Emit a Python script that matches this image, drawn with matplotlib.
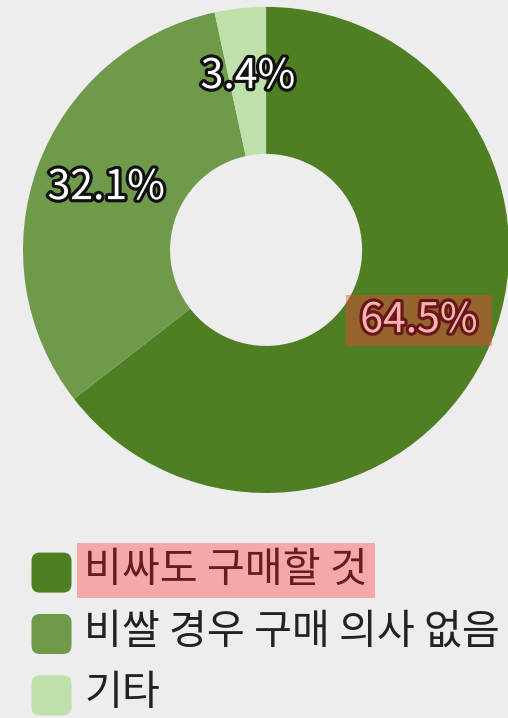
import matplotlib
matplotlib.use("Agg")
from matplotlib import pyplot as plt
from matplotlib.patches import FancyBboxPatch
from matplotlib.legend_handler import HandlerPatch
from matplotlib.transforms import ScaledTranslation
import matplotlib.patheffects as pe

plt.rcParams['font.family'] = ['Noto Sans CJK KR', 'DejaVu Sans']

labels = ['비싸도 구매할 것', '비쌀 경우 구매 의사 없음', '기타']
values = [64.5, 32.1, 3.4]
colors = ['#4f7f23', '#6e9a4a', '#c0e0ab']
highlight = 0  # index of the emphasised category

BG = '#ededed'
SQ = 28.8  # legend square side, points


class HandlerRound(HandlerPatch):
    def create_artists(self, legend, orig_handle, xdescent, ydescent,
                       width, height, fontsize, trans):
        y0 = -ydescent + height / 2 - SQ / 2 - 3.5
        p = FancyBboxPatch((-xdescent, y0), SQ, SQ,
                           boxstyle="round,pad=0,rounding_size=6",
                           facecolor=orig_handle.get_facecolor(), edgecolor='none',
                           transform=trans)
        return [p]


fig = plt.figure(figsize=(5.08, 7.18), dpi=100)
fig.patch.set_facecolor(BG)

ax = fig.add_axes([0.0453, 0.3134, 0.957, 0.677])
ax.set_facecolor(BG)

wedges, texts, autotexts = ax.pie(
    values, colors=colors, startangle=90, counterclock=False,
    radius=1.0, wedgeprops=dict(width=0.605, edgecolor='none'),
    autopct='%.1f%%', pctdistance=0.70,
    textprops=dict(fontsize=29.5, color='white', weight='medium'))
ax.set_xlim(-1, 1)
ax.set_ylim(-1, 1)
ax.set_aspect('auto')
ax.axis('off')

shift = ax.transData + ScaledTranslation(0, 3 / 72, fig.dpi_scale_trans)
for i, t in enumerate(autotexts):
    t.set_transform(shift)
    if i == highlight:
        t.set_text(' ' + t.get_text() + ' ')
        t.set_color('#ffb1b1')
        t.set_path_effects([pe.withStroke(linewidth=4.5, foreground='#661818')])
        t.set_bbox(dict(facecolor=(1.0, 0.24, 0.24, 0.4), edgecolor='none', pad=3.5))
    else:
        t.set_path_effects([pe.withStroke(linewidth=4.5, foreground='#111111')])

leg = fig.legend(wedges, labels, loc='upper left', bbox_to_anchor=(0.062, 0.235),
                 frameon=False, handlelength=1.0, handleheight=1.0,
                 handletextpad=0.28, labelspacing=0.48, borderpad=0, borderaxespad=0,
                 prop=dict(size=29.7, weight='medium'),
                 handler_map={matplotlib.patches.Wedge: HandlerRound()})
for i, t in enumerate(leg.get_texts()):
    t.set_color('#222222')
    if i == highlight:
        t.set_color('#6a1c1c')
        t.set_bbox(dict(facecolor='#f4a9a9', edgecolor='none', pad=5))

fig.savefig('out.png', dpi=100, facecolor=BG)
